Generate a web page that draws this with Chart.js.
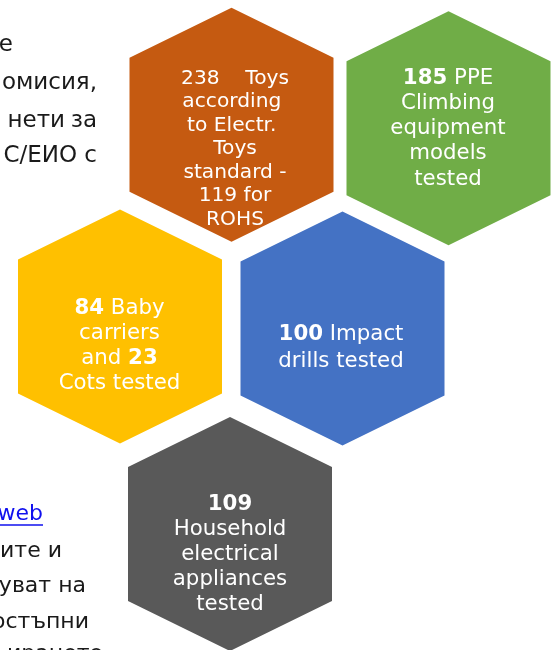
<!DOCTYPE html>
<html><head><meta charset="utf-8">
<script src="https://cdn.jsdelivr.net/npm/chart.js@4"></script>
<style>html,body{margin:0;padding:0;background:#fff;overflow:hidden}canvas{display:block}</style>
</head><body>
<canvas id="c" width="555" height="650"></canvas>
<script>
// ---- data ----
const categories = ['Toys (Electr. Toys standard)', 'PPE Climbing equipment', 'Baby carriers / Cots', 'Impact drills', 'Household electrical appliances'];
const testedCounts = [238, 185, 84, 100, 109];
const secondaryCounts = [119, null, 23, null, null];
const boldNumbers = [false, true, true, true, true];
const hexLabelTemplates = [
  ['{a}    Toys', 'according ', 'to Electr. ', 'Toys', 'standard -', '{b} for', 'ROHS'],
  ['{a} PPE', 'Climbing', 'equipment', 'models', 'tested'],
  ['{a} Baby', 'carriers', 'and {b}', 'Cots tested'],
  ['{a} Impact', 'drills tested'],
  ['{a}', 'Household', 'electrical', 'appliances', 'tested']
];
const hexColors = ['#C55A11', '#70AD47', '#FFC000', '#4472C4', '#595959'];
const pageTextTop = ['е', 'омисия,', 'нети', 'за', 'С/ЕИО с'];
const pageTextBottom = ['web', 'ите и', 'уват на', 'остъпни', 'ирането'];

// ---- layout (page pixels) ----
const hexGrid = [
  {cx: 231.5, cy: 124.7}, {cx: 448.5, cy: 128.3}, {cx: 120, cy: 326.5},
  {cx: 342.5, cy: 328.5}, {cx: 230, cy: 534}
];
const hexShape = {hw: 102, hh: 117, hs: 67};
const textLayout = [
  {x: 235, y0: 83.5, lh: 23.5, size: 20.2},
  {x: 448, y0: 83.5, lh: 25.3, size: 21.3},
  {x: 119.5, y0: 314.3, lh: 25, size: 21.3},
  {x: 341, y0: 340, lh: 26.5, size: 21.3},
  {x: 230, y0: 510, lh: 25, size: 21.3}
];
const pageTopLayout = [{r: 13, y: 50.7}, {r: 97, y: 89}, {r: 65, y: 126.7}, {r: 97, y: 126.7}, {r: 97, y: 161.7}];
const pageBottomLayout = [{r: 43, y: 520, link: true}, {r: 62, y: 556.7}, {r: 86, y: 591.7}, {r: 89, y: 628}, {r: 103, y: 660}];
const FAM = '"DejaVu Sans", Verdana, sans-serif';

function hexPoints(c) {
  const {hw, hh, hs} = hexShape;
  return [[0,-hh],[hw,-hs],[hw,hs],[0,hh],[-hw,hs],[-hw,-hs],[0,-hh]]
    .map(([dx, dy]) => ({x: c.cx + dx, y: c.cy + dy}));
}

function parseLine(line, i) {
  const segs = [];
  const re = /\{(a|b)\}/g;
  let last = 0, m;
  while ((m = re.exec(line)) !== null) {
    if (m.index > last) segs.push({t: line.slice(last, m.index), bold: false});
    const v = m[1] === 'a' ? testedCounts[i] : secondaryCounts[i];
    segs.push({t: String(v), bold: boldNumbers[i]});
    last = re.lastIndex;
  }
  if (last < line.length) segs.push({t: line.slice(last), bold: false});
  return segs;
}

const textPlugin = {
  id: 'hexText',
  afterDatasetsDraw(chart) {
    const ctx = chart.ctx, xs = chart.scales.x, ys = chart.scales.y;
    ctx.save();
    ctx.textBaseline = 'alphabetic';
    // page text behind the graphic
    ctx.textAlign = 'right';
    ctx.font = '23px ' + FAM;
    pageTextTop.forEach((t, k) => {
      const L = pageTopLayout[k];
      ctx.fillStyle = '#1a1a1a';
      ctx.fillText(t, xs.getPixelForValue(L.r), ys.getPixelForValue(L.y));
    });
    ctx.font = '22px ' + FAM;
    pageTextBottom.forEach((t, k) => {
      const L = pageBottomLayout[k];
      const x = xs.getPixelForValue(L.r), y = ys.getPixelForValue(L.y);
      ctx.fillStyle = L.link ? '#1010EE' : '#1a1a1a';
      ctx.fillText(t, x, y);
      if (L.link) {
        const w = ctx.measureText(t).width;
        ctx.strokeStyle = '#1010EE';
        ctx.lineWidth = 1.5;
        ctx.beginPath();
        ctx.moveTo(x - w - 2, y + 5);
        ctx.lineTo(x, y + 5);
        ctx.stroke();
      }
    });
    // hexagon labels
    ctx.textAlign = 'left';
    ctx.fillStyle = '#ffffff';
    hexLabelTemplates.forEach((lines, i) => {
      const L = textLayout[i];
      lines.forEach((line, j) => {
        const segs = parseLine(line, i);
        let total = 0;
        segs.forEach(s => {
          ctx.font = (s.bold ? 'bold ' : '') + L.size + 'px ' + FAM;
          s.w = ctx.measureText(s.t).width;
          total += s.w;
        });
        let x = xs.getPixelForValue(L.x) - total / 2;
        const y = ys.getPixelForValue(L.y0 + j * L.lh);
        segs.forEach(s => {
          ctx.font = (s.bold ? 'bold ' : '') + L.size + 'px ' + FAM;
          ctx.fillText(s.t, x, y);
          x += s.w;
        });
      });
    });
    ctx.restore();
  }
};

new Chart(document.getElementById('c'), {
  type: 'line',
  data: {
    datasets: categories.map((cat, i) => ({
      label: cat,
      data: hexPoints(hexGrid[i]),
      backgroundColor: hexColors[i],
      borderColor: hexColors[i],
      borderWidth: 0,
      pointRadius: 0,
      pointHoverRadius: 0,
      fill: 'shape',
      tension: 0
    }))
  },
  options: {
    responsive: false,
    animation: false,
    devicePixelRatio: 1,
    events: [],
    layout: {padding: 0},
    scales: {
      x: {type: 'linear', min: 0, max: 555, display: false},
      y: {type: 'linear', min: 0, max: 650, reverse: true, display: false}
    },
    plugins: {legend: {display: false}, tooltip: {enabled: false}}
  },
  plugins: [textPlugin]
});
</script>
</body></html>
